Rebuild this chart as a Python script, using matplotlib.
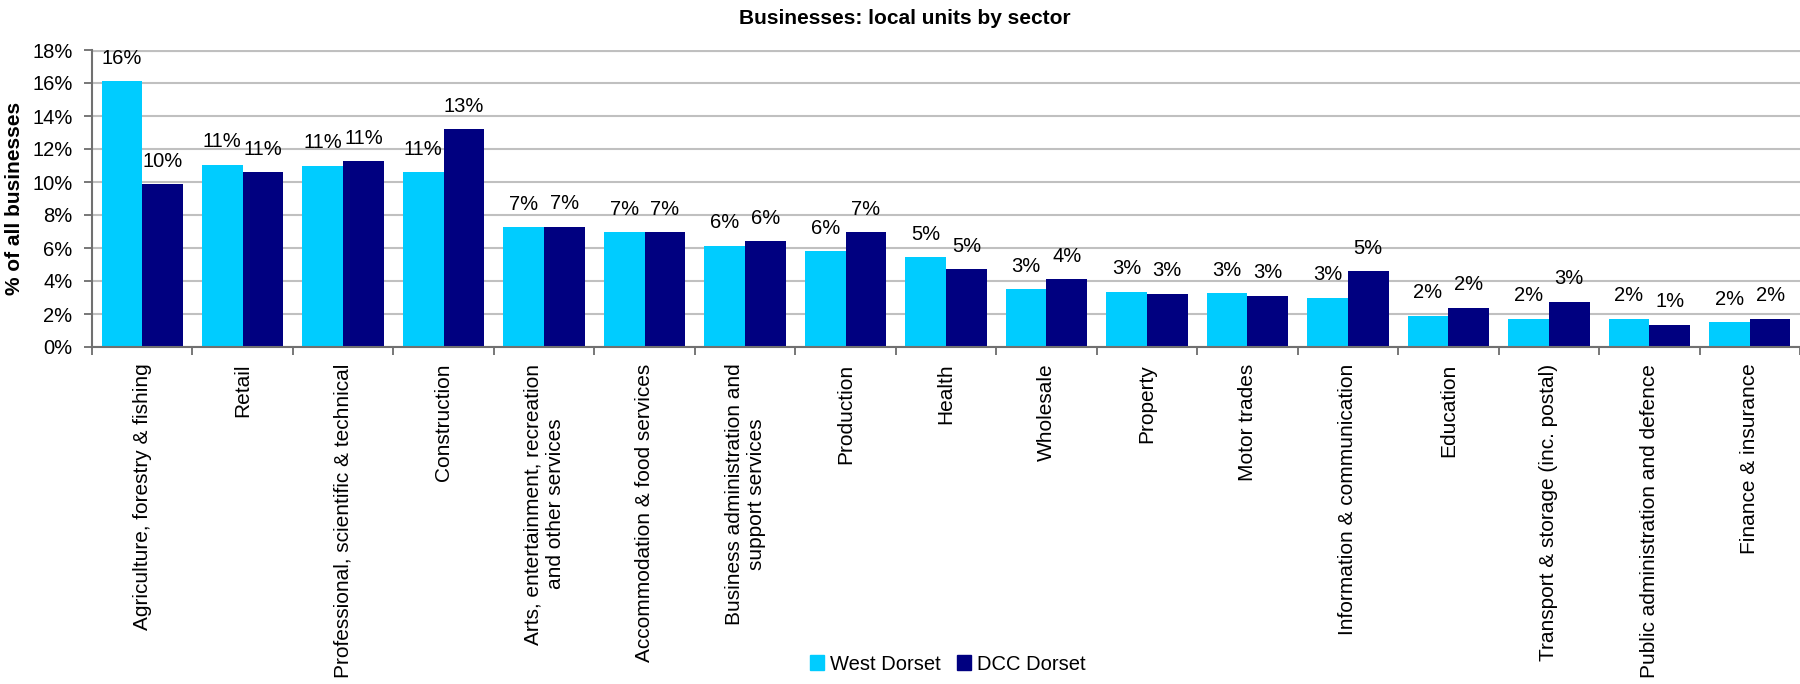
import matplotlib.pyplot as plt
import numpy as np
from matplotlib.patches import Patch

plt.rcParams['font.family'] = ['Liberation Sans', 'DejaVu Sans']

sectors = [
    "Agriculture, forestry & fishing",
    "Retail",
    "Professional, scientific & technical",
    "Construction",
    "Arts, entertainment, recreation\nand other services",
    "Accommodation & food services",
    "Business administration and\nsupport services",
    "Production",
    "Health",
    "Wholesale",
    "Property",
    "Motor trades",
    "Information & communication",
    "Education",
    "Transport & storage (inc. postal)",
    "Public administration and defence",
    "Finance & insurance",
]
west_dorset = [16.1, 11.05, 11.0, 10.6, 7.25, 6.95, 6.15, 5.8, 5.45, 3.49,
               3.35, 3.25, 3.0, 1.9, 1.72, 1.72, 1.52]
dcc_dorset = [9.85, 10.6, 11.25, 13.2, 7.3, 6.95, 6.4, 6.95, 4.7, 4.1,
              3.22, 3.12, 4.58, 2.38, 2.75, 1.35, 1.72]
series_names = ["West Dorset", "DCC Dorset"]
yticks = [0, 2, 4, 6, 8, 10, 12, 14, 16, 18]

c_wd = "#00CCFF"
c_dcc = "#000080"

fig = plt.figure(figsize=(18, 6.84), dpi=100)
ax = fig.add_axes([92/1800, 1-347/684, 1-92/1800, (347-50)/684])

x = np.arange(len(sectors))
w = 0.405
b1 = ax.bar(x - w/2, west_dorset, w, color=c_wd, zorder=3)
b2 = ax.bar(x + w/2, dcc_dorset, w, color=c_dcc, zorder=3)

# value labels above each bar
for bars, vals in ((b1, west_dorset), (b2, dcc_dorset)):
    for r, v in zip(bars, vals):
        ax.annotate(f"{round(v)}%", (r.get_x() + r.get_width()/2, v),
                    xytext=(0, 16.5), textcoords="offset points",
                    ha="center", va="center", fontsize=14.5)

ax.set_xlim(-0.5, len(sectors) - 0.5)
ax.set_ylim(0, 18)
ax.set_yticks(yticks)
ax.set_yticklabels([f"{t}%" for t in yticks], fontsize=14.5)
ax.yaxis.grid(True, color="#C0C0C0", linewidth=1.5, zorder=0)
ax.axhline(18, color="#BFBFBF", linewidth=3, zorder=1)

ax.set_xticks(x)
ax.set_xticklabels(sectors, rotation=90, fontsize=15, ha="center",
                   va="top", multialignment="center")
ax.set_xticks(np.arange(len(sectors) + 1) - 0.5, minor=True)
ax.tick_params(axis="x", which="major", length=0, pad=12)
ax.tick_params(axis="x", which="minor", length=6, width=1.2, color="#606060")
ax.tick_params(axis="y", length=6, width=1.2, color="#606060", pad=8)

for s in ("top", "right"):
    ax.spines[s].set_visible(False)
for s in ("left", "bottom"):
    ax.spines[s].set_color("#707070")
    ax.spines[s].set_linewidth(1.5)
    ax.spines[s].set_zorder(4)

ax.set_ylabel("% of all businesses", fontsize=15, fontweight="bold", labelpad=6)

fig.text(905/1800, 1-18/684, "Businesses: local units by sector",
         ha="center", va="center", fontsize=15, fontweight="bold")

handles = [Patch(color=c_wd), Patch(color=c_dcc)]
fig.legend(handles, series_names, loc="center", bbox_to_anchor=(948/1800, 1-664/684),
           ncol=2, frameon=False, fontsize=14.5, handlelength=0.7, handleheight=0.7,
           handletextpad=0.3, columnspacing=0.8, borderpad=0)

fig.savefig("out.png", dpi=100)
